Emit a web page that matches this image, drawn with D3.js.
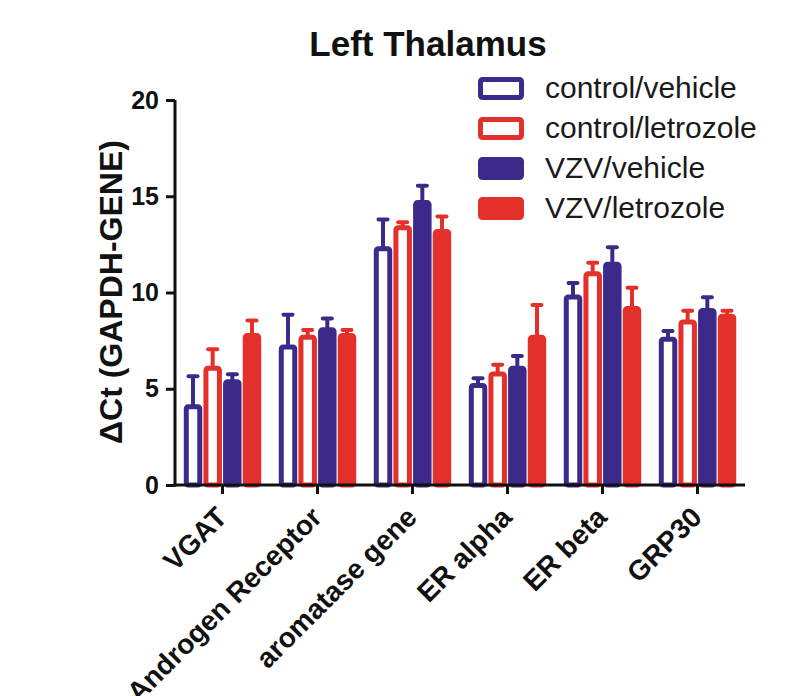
<!DOCTYPE html>
<html>
<head>
<meta charset="utf-8">
<script src="https://cdn.jsdelivr.net/npm/d3@7"></script>
<style>
  html, body { margin: 0; padding: 0; background: #fff; }
  svg { display: block; font-family: "Liberation Sans", Arial, sans-serif; }
</style>
</head>
<body>
<div id="chart"></div>
<script>
// genes on the x axis
const genes = ["VGAT", "Androgen Receptor", "aromatase gene", "ER alpha", "ER beta", "GRP30"];
// groups, in legend order
const groups = ["control/vehicle", "control/letrozole", "VZV/vehicle", "VZV/letrozole"];
// mean ΔCt per gene, one array per group
const controlVehicle   = [4.2, 7.3, 12.4, 5.3, 9.9, 7.7];
const controlLetrozole = [6.2, 7.8, 13.5, 5.9, 11.1, 8.6];
const vzvVehicle       = [5.5, 8.2, 14.8, 6.2, 11.6, 9.2];
const vzvLetrozole     = [7.9, 7.9, 13.3, 7.8, 9.3, 8.9];
// upper error (mean + sem)
const controlVehicleErr   = [5.7, 8.9, 13.85, 5.6, 10.55, 8.05];
const controlLetrozoleErr = [7.1, 8.1, 13.7, 6.3, 11.6, 9.1];
const vzvVehicleErr       = [5.8, 8.7, 15.6, 6.75, 12.4, 9.8];
const vzvLetrozoleErr     = [8.6, 8.1, 14.0, 9.4, 10.3, 9.1];
const yTicks = [0, 5, 10, 15, 20];

const blue = "#3b2a8a";
const red = "#e4302a";
const groupStyle = {
  "control/vehicle":   { color: blue, open: true },
  "control/letrozole": { color: red,  open: true },
  "VZV/vehicle":       { color: blue, open: false },
  "VZV/letrozole":     { color: red,  open: false }
};

const means = [controlVehicle, controlLetrozole, vzvVehicle, vzvLetrozole];
const errs = [controlVehicleErr, controlLetrozoleErr, vzvVehicleErr, vzvLetrozoleErr];
const rows = [];
genes.forEach((g, i) => {
  groups.forEach((s, j) => {
    rows.push({ gene: g, group: s, value: means[j][i], upper: errs[j][i] });
  });
});

const width = 789;
const height = 696;
const sw = 5; // outline width of the bars

const svg = d3.select("#chart").append("svg")
              .attr("width", width)
              .attr("height", height);

const y = d3.scaleLinear().domain([0, 20]).range([485, 100]);
const x0 = d3.scaleBand().domain(genes).range([175, 745])
             .paddingInner(0.16).paddingOuter(0.08);
const x1 = d3.scaleBand().domain(groups).range([0, x0.bandwidth()]).padding(0.06);

// title
svg.append("text")
   .attr("x", 428)
   .attr("y", 56)
   .attr("text-anchor", "middle")
   .attr("font-size", 35)
   .attr("font-weight", "bold")
   .attr("fill", "#111")
   .text("Left Thalamus");

// y axis label
svg.append("text")
   .attr("transform", "translate(122,292) rotate(-90)")
   .attr("text-anchor", "middle")
   .attr("font-size", 32)
   .attr("font-weight", "bold")
   .attr("fill", "#111")
   .text("ΔCt (GAPDH-GENE)");

// bars
const gBars = svg.append("g");
const bar = gBars.selectAll("g")
                 .data(rows)
                 .join("g")
                 .attr("transform", d => `translate(${x0(d.gene) + x1(d.group)},0)`);

// error bars first so the bar covers the lower end
bar.append("line")
   .attr("x1", x1.bandwidth() / 2)
   .attr("x2", x1.bandwidth() / 2)
   .attr("y1", d => y(d.value) + 2)
   .attr("y2", d => y(d.upper))
   .attr("stroke", d => groupStyle[d.group].color)
   .attr("stroke-width", 4);
bar.append("line")
   .attr("x1", x1.bandwidth() / 2 - 4.5)
   .attr("x2", x1.bandwidth() / 2 + 4.5)
   .attr("y1", d => y(d.upper) + 1)
   .attr("y2", d => y(d.upper) + 1)
   .attr("stroke", d => groupStyle[d.group].color)
   .attr("stroke-width", 4)
   .attr("stroke-linecap", "round");

bar.append("rect")
   .attr("x", sw / 2)
   .attr("y", d => y(d.value) + sw / 2)
   .attr("width", x1.bandwidth() - sw)
   .attr("height", d => y(0) - y(d.value) - sw / 2)
   .attr("rx", 2)
   .attr("fill", d => groupStyle[d.group].open ? "#fff" : groupStyle[d.group].color)
   .attr("stroke", d => groupStyle[d.group].color)
   .attr("stroke-width", sw);

// y axis
const yAxis = svg.append("g")
                 .attr("transform", "translate(175,0)")
                 .call(d3.axisLeft(y).tickValues(yTicks).tickSize(9).tickPadding(7).tickSizeOuter(0));
yAxis.select(".domain").attr("stroke", "#111").attr("stroke-width", 3)
     .attr("d", `M0,${y(20)}V${y(0) + 1.5}`);
yAxis.selectAll(".tick line").attr("stroke", "#111").attr("stroke-width", 3);
yAxis.selectAll(".tick text")
     .attr("font-size", 25)
     .attr("font-weight", "bold")
     .attr("font-family", "Liberation Sans, Arial, sans-serif")
     .attr("fill", "#111");

// x axis
const xAxis = svg.append("g")
                 .attr("transform", `translate(0,${y(0)})`)
                 .call(d3.axisBottom(x0).tickSize(9).tickSizeOuter(0));
xAxis.select(".domain").attr("stroke", "#111").attr("stroke-width", 3)
     .attr("d", "M173.5,0H745");
xAxis.selectAll(".tick line").attr("stroke", "#111").attr("stroke-width", 3);
xAxis.selectAll(".tick text")
     .attr("font-size", 28)
     .attr("font-weight", "bold")
     .attr("font-family", "Liberation Sans, Arial, sans-serif")
     .attr("fill", "#111")
     .attr("text-anchor", "end")
     .attr("dy", null)
     .attr("y", 0)
     .attr("transform", "translate(6,34) rotate(-45)");

// legend
const legend = svg.append("g")
                  .selectAll("g")
                  .data(groups)
                  .join("g")
                  .attr("transform", (d, i) => `translate(478,${77 + i * 40})`);
legend.append("rect")
      .attr("x", sw / 2)
      .attr("y", sw / 2)
      .attr("width", 46 - sw)
      .attr("height", 23 - sw)
      .attr("rx", 2)
      .attr("fill", d => groupStyle[d].open ? "#fff" : groupStyle[d].color)
      .attr("stroke", d => groupStyle[d].color)
      .attr("stroke-width", sw);
legend.append("text")
      .attr("x", 67)
      .attr("y", 21)
      .attr("font-size", 30)
      .attr("fill", "#1a1a1a")
      .text(d => d);
</script>
</body>
</html>
